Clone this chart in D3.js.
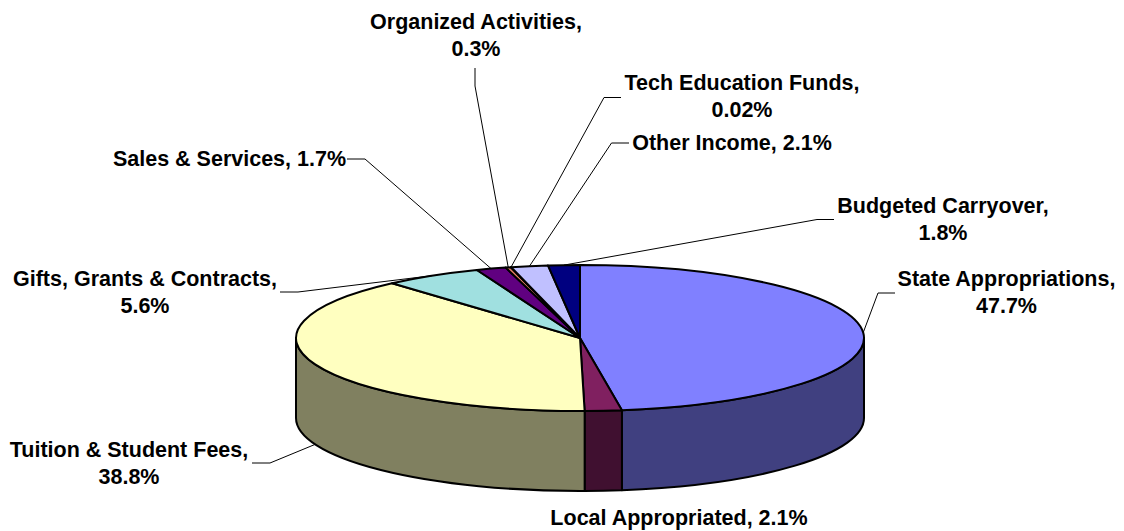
<!DOCTYPE html>
<html>
<head>
<meta charset="utf-8">
<script src="https://cdn.jsdelivr.net/npm/d3@7"></script>
<style>
    html, body { margin: 0; padding: 0; background: #fff; }
    svg { display: block; }
</style>
</head>
<body>
<div id="chart"></div>
<script>
// values, clockwise from 12 o'clock
const categories = ["State Appropriations", "Local Appropriated", "Tuition & Student Fees",
    "Gifts, Grants & Contracts", "Sales & Services", "Organized Activities",
    "Tech Education Funds", "Other Income", "Budgeted Carryover"];
const values = [47.7, 2.1, 38.8, 5.6, 1.7, 0.3, 0.02, 2.1, 1.8];
const valueLabels = ["47.7%", "2.1%", "38.8%", "5.6%", "1.7%", "0.3%", "0.02%", "2.1%", "1.8%"];
const topColors = ["#8080ff", "#802060", "#ffffc0", "#a0e0e0", "#600080", "#e08060", "#0080c0", "#c0c0ff", "#000080"];
const sideColors = ["#404080", "#401030", "#808060", "#507070", "#300040", "#704030", "#004060", "#606080", "#000040"];

// label placement: centre x, first baseline, one line or two
const labelX = [1006.5, 679, 129, 145, 229.5, 476, 742, 732, 943];
const labelY = [286, 525, 457, 286, 166, 29, 90, 150, 213];
const labelTwoLines = [true, false, true, true, false, true, true, false, true];
// leader line elbows, ending at the rim of the slice
const leaderElbows = [
    [[895, 293], [878, 293]],
    null,
    [[252, 463], [270, 463]],
    [[280, 292], [298, 292]],
    [[347, 159], [365, 159]],
    [[475, 68], [475, 86]],
    [[621, 97.5], [604, 97.5]],
    [[629, 143], [611.5, 143]],
    [[834, 219.5], [817, 219.5]]
];

const width = 1124, height = 531;
const pieLeft = 296, pieRight = 864, pieTop = 265, pieBottom = 411, depth = 80;
const fontSize = 21.5, lineHeight = 27.2;

const svg = d3.select("#chart").append("svg")
    .attr("width", width)
    .attr("height", height);

const xScale = d3.scaleLinear().domain([-1, 1]).range([pieLeft, pieRight]);
const yScale = d3.scaleLinear().domain([-1, 1]).range([pieTop, pieBottom]);
const rx = (pieRight - pieLeft) / 2, ry = (pieBottom - pieTop) / 2;

const px = a => xScale(Math.sin(a));
const py = a => yScale(-Math.cos(a));

// the rounded labels add up to a little over 100, so each one keeps its own share
// of the circle and the last slice just stops at 12 o'clock
const fullTurn = 2 * Math.PI * d3.sum(values) / 100;
const slices = d3.pie().sort(null).endAngle(fullTurn)(values).map((d, i) => ({
    ...d,
    endAngle: Math.min(d.endAngle, 2 * Math.PI),
    i
}));

const topPath = d => {
    const large = d.endAngle - d.startAngle > Math.PI ? 1 : 0;
    return `M${xScale(0)},${yScale(0)}L${px(d.startAngle)},${py(d.startAngle)}` +
        `A${rx},${ry} 0 ${large} 1 ${px(d.endAngle)},${py(d.endAngle)}Z`;
};

// only the front half of the rim has a visible wall
const wallPath = d => {
    const a0 = Math.max(d.startAngle, Math.PI / 2);
    const a1 = Math.min(d.endAngle, 3 * Math.PI / 2);
    if (a1 <= a0) return null;
    return `M${px(a0)},${py(a0)}A${rx},${ry} 0 0 1 ${px(a1)},${py(a1)}` +
        `L${px(a1)},${py(a1) + depth}A${rx},${ry} 0 0 0 ${px(a0)},${py(a0) + depth}Z`;
};

svg.append("g").selectAll("path")
    .data(slices.filter(d => wallPath(d)))
    .enter().append("path")
    .attr("d", wallPath)
    .attr("fill", d => sideColors[d.i])
    .attr("stroke", "#000")
    .attr("stroke-width", 2)
    .attr("stroke-linejoin", "round");

svg.append("g").selectAll("path")
    .data(slices)
    .enter().append("path")
    .attr("d", topPath)
    .attr("fill", d => topColors[d.i])
    .attr("stroke", "#000")
    .attr("stroke-width", 2)
    .attr("stroke-linejoin", "round");

// Leader lines
const leaderEnd = d => {
    const mid = (d.startAngle + d.endAngle) / 2;
    const wall = mid > Math.PI / 2 && mid < 3 * Math.PI / 2;
    return [px(mid), py(mid) + (wall ? depth : 0)];
};

svg.append("g").selectAll("path")
    .data(slices.filter(d => leaderElbows[d.i]))
    .enter().append("path")
    .attr("d", d => d3.line()([...leaderElbows[d.i], leaderEnd(d)]))
    .attr("fill", "none")
    .attr("stroke", "#000")
    .attr("stroke-width", 1);

// Labels
const labels = svg.append("g")
    .attr("font-family", "'Liberation Sans', Arial, sans-serif")
    .attr("font-weight", "bold")
    .attr("font-size", fontSize)
    .attr("fill", "#000")
    .attr("text-anchor", "middle");

categories.forEach((name, i) => {
    const text = labels.append("text").attr("x", labelX[i]).attr("y", labelY[i]);
    if (labelTwoLines[i]) {
        text.append("tspan").attr("x", labelX[i]).text(`${name},`);
        text.append("tspan").attr("x", labelX[i]).attr("dy", lineHeight).text(valueLabels[i]);
    } else {
        text.text(`${name}, ${valueLabels[i]}`);
    }
});
</script>
</body>
</html>
